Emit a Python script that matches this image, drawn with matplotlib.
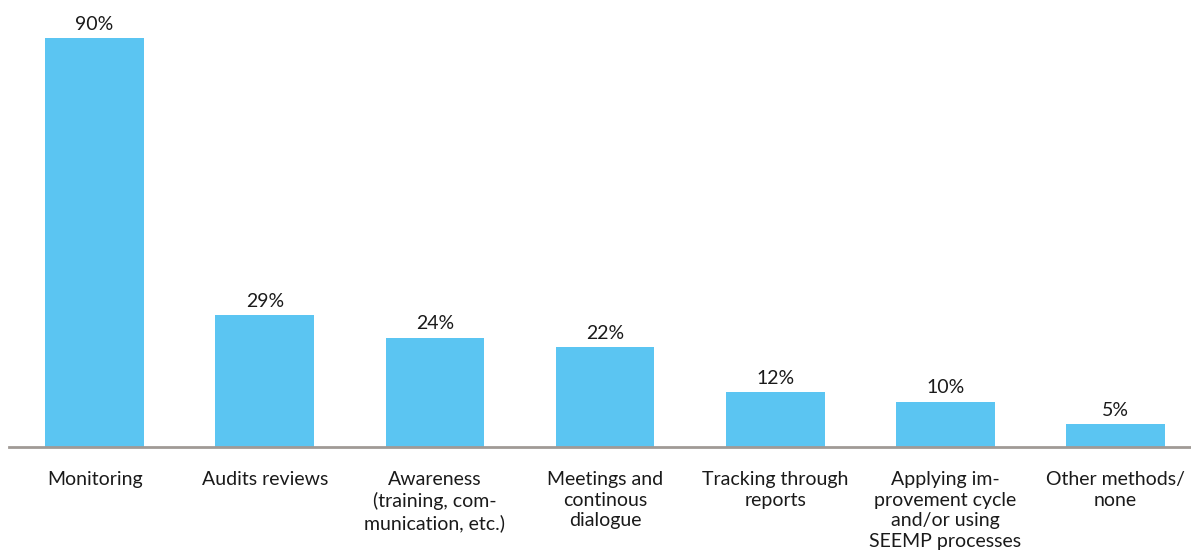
import matplotlib.pyplot as plt

categories = [
    "Monitoring",
    "Audits reviews",
    "Awareness\n(training, com-\nmunication, etc.)",
    "Meetings and\ncontinous\ndialogue",
    "Tracking through\nreports",
    "Applying im-\nprovement cycle\nand/or using\nSEEMP processes",
    "Other methods/\nnone",
]
shares = [90, 29, 24, 22, 12, 10, 5]

BAR = "#5BC5F2"
AXIS = "#A09A96"
TEXT = "#1A1A1A"

plt.rcParams["font.family"] = ["Lato", "DejaVu Sans"]

fig = plt.figure(figsize=(11.91, 5.53), dpi=100)
ax = fig.add_axes([9 / 1191, 106 / 553, 1182 / 1191, 447 / 553])

x = list(range(len(categories)))
ax.bar(x, shares, width=0.58, color=BAR, zorder=2)

for xi, v in zip(x, shares):
    ax.annotate(f"{v}%", (xi, v), xytext=(0, 4), textcoords="offset points",
                ha="center", va="bottom", fontsize=14, color=TEXT)

ax.set_xlim(-0.503, 6.444)
ax.set_ylim(0, 98.4)
ax.set_yticks([])
ax.set_xticks(x)
ax.set_xticklabels(categories, fontsize=14, color=TEXT, linespacing=1.28)
ax.tick_params(axis="x", length=0, pad=17)

for side in ("top", "right", "left"):
    ax.spines[side].set_visible(False)
ax.spines["bottom"].set_color(AXIS)
ax.spines["bottom"].set_linewidth(2)
ax.spines["bottom"].set_zorder(3)

fig.savefig("out.png", dpi=100, facecolor="white")
